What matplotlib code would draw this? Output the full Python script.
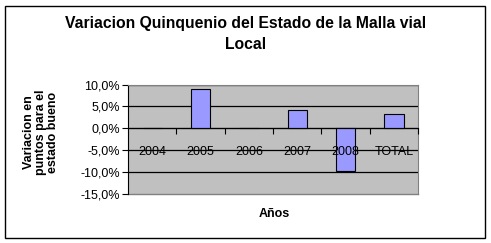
import matplotlib
matplotlib.use("Agg")
import matplotlib.pyplot as plt
from matplotlib.ticker import FixedLocator, FuncFormatter
from matplotlib.patches import Rectangle

categories = ["2004", "2005", "2006", "2007", "2008", "TOTAL"]
values = [0.0, 9.0, 0.0, 4.2, -9.9, 3.3]
yticks = [10, 5, 0, -5, -10, -15]

plt.rcParams['font.family'] = ['Liberation Sans', 'DejaVu Sans']

W, H = 491, 243
fig = plt.figure(figsize=(W / 100, H / 100), dpi=100)
fig.patch.set_facecolor("white")

# outer chart border
fig.patches.append(Rectangle((5 / W, 5 / H), 480 / W, 232 / H, transform=fig.transFigure,
                             fill=False, edgecolor="black", linewidth=1.0))

ax = fig.add_axes([128 / W, (H - 193.5) / H, 290 / W, 109 / H])
ax.set_facecolor("#C0C0C0")
x = list(range(len(categories)))
ax.bar(x, values, width=0.4, color="#9999FF", edgecolor="black", linewidth=0.8, zorder=3)

ax.set_xlim(-0.5, len(categories) - 0.5)
ax.set_ylim(-15, 10)
ax.set_yticks(yticks)
ax.yaxis.set_major_formatter(FuncFormatter(lambda v, p: ("%.1f%%" % v).replace(".", ",")))
ax.tick_params(axis="y", length=4, width=0.8, labelsize=9, pad=2, color="black")
for v in yticks:
    if v not in (-15,):
        ax.axhline(v, color="black", linewidth=0.9, zorder=2)

for s in ["left", "right", "top"]:
    ax.spines[s].set_color("#808080")
ax.spines["left"].set_color("black")
ax.spines["bottom"].set_position(("data", 0))
ax.spines["bottom"].set_color("black")
ax.spines["bottom"].set_zorder(4)
ax.set_xticks(x)
ax.set_xticklabels(categories)
ax.xaxis.set_minor_locator(FixedLocator([i + 0.5 for i in range(len(categories))]))
ax.tick_params(axis="x", which="major", length=0, labelsize=9, pad=13)
ax.tick_params(axis="x", which="minor", length=4, width=0.8, color="black")
ax.xaxis.set_zorder(5)
# bottom plot area border
ax.plot([0, 1], [0, 0], transform=ax.transAxes, color="#808080", linewidth=1.0, clip_on=False)

fig.text(246 / W, 1 - 34 / H, "Variacion Quinquenio del Estado de la Malla vial\nLocal",
         ha="center", va="center", fontsize=11.3, fontweight="bold", linespacing=1.55)
fig.text(41 / W, 1 - 132 / H, "Variacion en\npuntos para el\nestado bueno", rotation=90,
         ha="center", va="center", fontsize=9, fontweight="bold", linespacing=0.95)
fig.text(274 / W, 1 - 214 / H, "Años", ha="center", va="center", fontsize=9, fontweight="bold")

fig.savefig("out.png", dpi=100)
